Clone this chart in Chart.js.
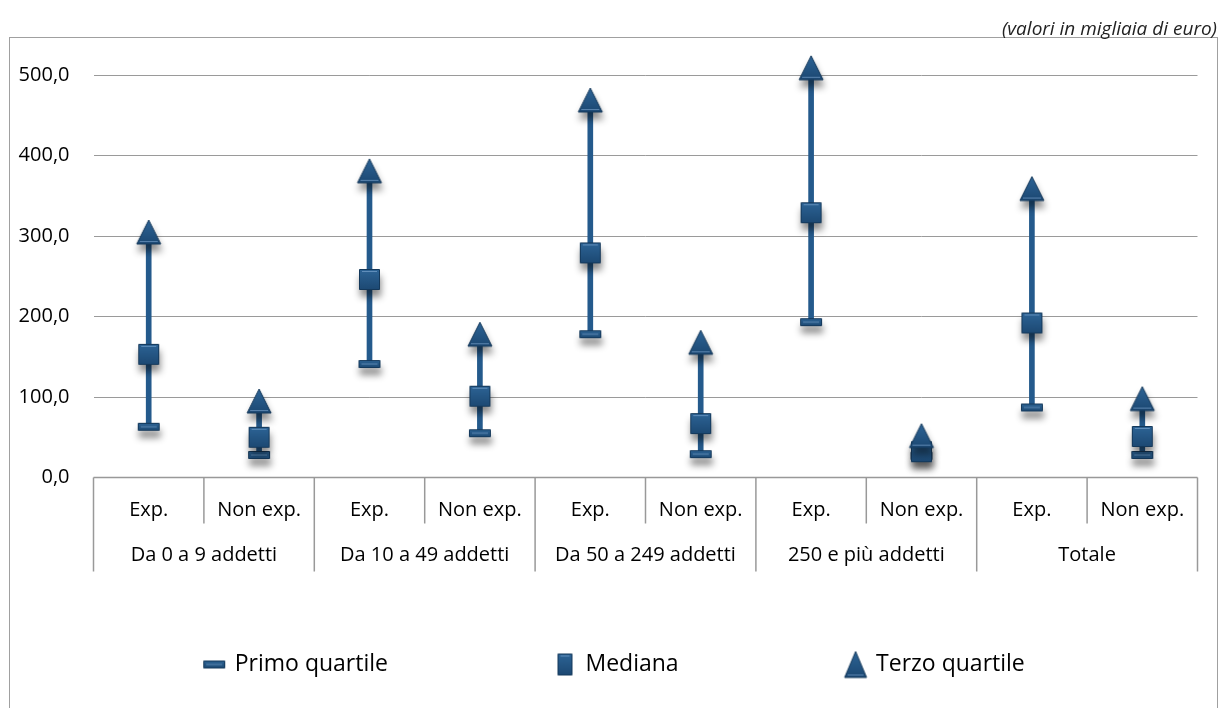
<!DOCTYPE html>
<html>
<head>
<meta charset="utf-8">
<script src="https://cdn.jsdelivr.net/npm/chart.js@4.4.1/dist/chart.umd.min.js"></script>
<style>
  html, body { margin: 0; padding: 0; background: #ffffff; }
  #wrap { width: 1221px; height: 708px; position: relative; }
</style>
</head>
<body>
<div id="wrap"><canvas id="c" width="1221" height="708"></canvas></div>
<script>
// ---- data ----
const categories = ['Exp.', 'Non exp.', 'Exp.', 'Non exp.', 'Exp.', 'Non exp.', 'Exp.', 'Non exp.', 'Exp.', 'Non exp.'];
const groups = ['Da 0 a 9 addetti', 'Da 10 a 49 addetti', 'Da 50 a 249 addetti', '250 e più addetti', 'Totale'];
const primoQuartile = [63, 28, 141, 55, 178, 29, 193, 27, 87, 28];
const mediana      = [153, 50, 246, 101, 279, 67, 329, 32, 192, 51];
const terzoQuartile = [305, 95, 381, 178, 469, 168, 509, 52, 359, 98];
const yTicks = [0, 100, 200, 300, 400, 500];
const seriesNames = ['Primo quartile', 'Mediana', 'Terzo quartile'];
const noteText = '(valori in migliaia di euro)';

// ---- marker images ----
function makeMarker(kind, w, h) {
  const pad = 2;
  const c = document.createElement('canvas');
  c.width = w + pad * 2; c.height = h + pad * 2;
  const g = c.getContext('2d');
  const x0 = pad, y0 = pad;
  const grad = g.createLinearGradient(0, y0, 0, y0 + h);
  grad.addColorStop(0, '#2d6496');
  grad.addColorStop(1, '#1c4872');
  g.fillStyle = grad;
  g.strokeStyle = '#14385a';
  g.lineWidth = 1;
  g.beginPath();
  if (kind === 'triangle') {
    g.moveTo(x0 + w / 2, y0);
    g.lineTo(x0 + w, y0 + h);
    g.lineTo(x0, y0 + h);
    g.closePath();
  } else {
    g.rect(x0 + 0.5, y0 + 0.5, w - 1, h - 1);
  }
  g.fill();
  g.stroke();
  g.strokeStyle = 'rgba(140,180,220,0.55)';
  g.lineWidth = 1;
  g.beginPath();
  if (kind === 'bar') {
    g.moveTo(x0 + 3, y0 + h / 2); g.lineTo(x0 + w - 3, y0 + h / 2);
  } else if (kind === 'square') {
    g.moveTo(x0 + 3, y0 + 2.5); g.lineTo(x0 + w - 3, y0 + 2.5);
  } else {
    g.moveTo(x0 + 3, y0 + h - 2.5); g.lineTo(x0 + w - 3, y0 + h - 2.5);
  }
  g.stroke();
  return c;
}
const imgPrimo = makeMarker('bar', 22, 8);
const imgMediana = makeMarker('square', 21, 21);
const imgTerzo = makeMarker('triangle', 24, 24);
const legendImgs = [makeMarker('bar', 22, 8), makeMarker('square', 15, 22), makeMarker('triangle', 22, 26)];

Chart.defaults.font.family = "'Open Sans', 'Noto Sans', sans-serif";
Chart.defaults.color = '#000000';

// ---- plugins ----
const framePlugin = {
  id: 'frame',
  beforeDraw(chart) {
    const ctx = chart.ctx;
    ctx.save();
    ctx.fillStyle = '#ffffff';
    ctx.fillRect(0, 0, chart.width, chart.height);
    ctx.strokeStyle = '#a0a0a0';
    ctx.lineWidth = 1;
    ctx.strokeRect(9.5, 37.5, 1208, 720);
    ctx.restore();
  }
};

const shadowPlugin = {
  id: 'markerShadow',
  beforeDatasetDraw(chart, args) {
    if (args.meta.type === 'line') {
      const ctx = chart.ctx;
      ctx.save();
      ctx.shadowColor = 'rgba(0,0,0,0.45)';
      ctx.shadowBlur = 7;
      ctx.shadowOffsetX = 1;
      ctx.shadowOffsetY = 7;
    }
  },
  afterDatasetDraw(chart, args) {
    if (args.meta.type === 'line') chart.ctx.restore();
  }
};

const xLabelsPlugin = {
  id: 'xLabels',
  afterDraw(chart) {
    const ctx = chart.ctx;
    const xs = chart.scales.x;
    const area = chart.chartArea;
    const base = area.bottom;
    const step = xs.getPixelForValue(1) - xs.getPixelForValue(0);
    ctx.save();
    ctx.strokeStyle = '#999999';
    ctx.lineWidth = 1.5;
    ctx.beginPath();
    ctx.moveTo(area.left, base);
    ctx.lineTo(area.right, base);
    ctx.stroke();
    for (let b = 0; b <= categories.length; b++) {
      const x = xs.getPixelForValue(0) - step / 2 + b * step;
      const bottom = (b % 2 === 0) ? base + 94 : base + 46;
      ctx.beginPath();
      ctx.moveTo(x, base);
      ctx.lineTo(x, bottom);
      ctx.stroke();
    }
    ctx.fillStyle = '#000000';
    ctx.font = "20px 'Open Sans'";
    ctx.textAlign = 'center';
    ctx.textBaseline = 'middle';
    categories.forEach((c, i) => {
      ctx.fillText(c, xs.getPixelForValue(i), base + 33);
    });
    groups.forEach((g, gi) => {
      const cx = (xs.getPixelForValue(gi * 2) + xs.getPixelForValue(gi * 2 + 1)) / 2;
      ctx.fillText(g, cx, base + 78);
    });
    ctx.restore();
  }
};

const rangeData = primoQuartile.map((v, i) => [v, terzoQuartile[i]]);

new Chart(document.getElementById('c'), {
  type: 'bar',
  data: {
    labels: categories,
    datasets: [
      { type: 'line', label: seriesNames[0], data: primoQuartile, showLine: false, pointStyle: imgPrimo, pointRadius: 11, pointHoverRadius: 11, order: 3, clip: false },
      { type: 'line', label: seriesNames[1], data: mediana, showLine: false, pointStyle: imgMediana, pointRadius: 11, pointHoverRadius: 11, order: 2, clip: false },
      { type: 'line', label: seriesNames[2], data: terzoQuartile, showLine: false, pointStyle: imgTerzo, pointRadius: 12, pointHoverRadius: 12, order: 1, clip: false },
      { type: 'bar', label: 'range', data: rangeData, backgroundColor: '#245a8c', borderWidth: 0, barThickness: 5, order: 10 }
    ]
  },
  options: {
    responsive: false,
    animation: false,
    devicePixelRatio: 1,
    layout: { padding: { left: 13, right: 4, top: 0, bottom: 22 } },
    scales: {
      x: {
        type: 'category',
        offset: true,
        grid: { display: false },
        border: { display: false },
        ticks: { display: false },
        afterFit(scale) { scale.height = 7.5; }
      },
      y: {
        min: 0,
        max: 532,
        position: 'left',
        border: { display: false },
        grid: {
          drawTicks: false,
          color: (c) => (c.tick && c.tick.value === 0) ? 'rgba(0,0,0,0)' : '#9a9a9a',
          lineWidth: 1
        },
        afterBuildTicks(scale) { scale.ticks = yTicks.map(v => ({ value: v })); },
        ticks: {
          padding: 24,
          font: { size: 20 },
          color: '#000000',
          callback: (v) => Number(v).toFixed(1).replace('.', ',')
        },
        afterFit(scale) { scale.width = 80.5; }
      },
      y2: {
        type: 'linear',
        position: 'right',
        display: true,
        grid: { display: false },
        border: { display: false },
        ticks: { display: false },
        afterFit(scale) { scale.width = 19.5; }
      }
    },
    plugins: {
      tooltip: { enabled: false },
      title: {
        display: true,
        text: noteText,
        align: 'end',
        color: '#222222',
        font: { size: 19, style: 'italic', weight: 'normal' },
        padding: { top: 18.5, bottom: 8 }
      },
      legend: {
        display: true,
        position: 'bottom',
        labels: {
          usePointStyle: true,
          boxWidth: 18,
          padding: 168,
          font: { size: 23 },
          color: '#000000',
          filter: (item) => item.datasetIndex !== 3,
          sort: (a, b) => a.datasetIndex - b.datasetIndex,
          generateLabels(chart) {
            const items = Chart.defaults.plugins.legend.labels.generateLabels(chart);
            return items.map(it => (it.datasetIndex < 3 ? Object.assign({}, it, { pointStyle: legendImgs[it.datasetIndex] }) : it));
          }
        }
      }
    }
  },
  plugins: [framePlugin, shadowPlugin, xLabelsPlugin]
});
</script>
</body>
</html>
